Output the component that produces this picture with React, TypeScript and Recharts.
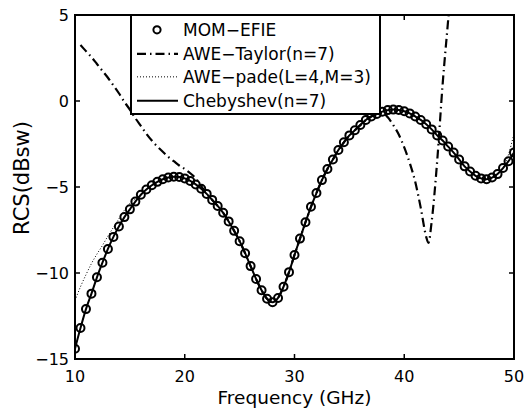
import { LineChart, Line, XAxis, YAxis, ReferenceArea, Legend } from "recharts";

// frequency samples (GHz) used by MOM / Chebyshev / Pade
const FREQ = [
  10, 10.5, 11, 11.5, 12, 12.5, 13, 13.5, 14, 14.5, 15, 15.5, 16, 16.5, 17, 17.5, 18, 18.5, 19, 19.5,
  20, 20.5, 21, 21.5, 22, 22.5, 23, 23.5, 24, 24.5, 25, 25.5, 26, 26.5, 27, 27.5, 28, 28.5, 29, 29.5,
  30, 30.5, 31, 31.5, 32, 32.5, 33, 33.5, 34, 34.5, 35, 35.5, 36, 36.5, 37, 37.5, 38, 38.5, 39, 39.5,
  40, 40.5, 41, 41.5, 42, 42.5, 43, 43.5, 44, 44.5, 45, 45.5, 46, 46.5, 47, 47.5, 48, 48.5, 49, 49.5, 50
];

const MOM_EFIE = [
  -14.4, -13.2, -12.1, -11.2, -10.25, -9.4, -8.6, -7.9, -7.3, -6.75, -6.3, -5.85, -5.45, -5.15, -4.9, -4.7, -4.55, -4.45, -4.4, -4.42,
  -4.5, -4.65, -4.85, -5.1, -5.4, -5.75, -6.1, -6.5, -7.0, -7.55, -8.15, -8.85, -9.6, -10.35, -11.0, -11.5, -11.7, -11.45, -10.8, -9.95,
  -8.95, -8.0, -7.05, -6.15, -5.35, -4.6, -3.95, -3.4, -2.85, -2.4, -2.0, -1.7, -1.4, -1.1, -0.9, -0.75, -0.62, -0.53, -0.5, -0.52,
  -0.6, -0.72, -0.9, -1.1, -1.35, -1.65, -2.0, -2.3, -2.65, -3.0, -3.4, -3.8, -4.1, -4.35, -4.5, -4.55, -4.45, -4.25, -3.9, -3.5, -3.0
];

const CHEBYSHEV = [
  -14.4, -13.2, -12.1, -11.2, -10.25, -9.4, -8.6, -7.9, -7.3, -6.75, -6.3, -5.85, -5.45, -5.15, -4.9, -4.7, -4.55, -4.45, -4.4, -4.42,
  -4.5, -4.65, -4.85, -5.1, -5.4, -5.75, -6.1, -6.5, -7.0, -7.55, -8.15, -8.85, -9.6, -10.35, -11.0, -11.5, -11.7, -11.45, -10.8, -9.95,
  -8.95, -8.0, -7.05, -6.15, -5.35, -4.6, -3.95, -3.4, -2.85, -2.4, -2.0, -1.7, -1.4, -1.1, -0.9, -0.75, -0.62, -0.53, -0.5, -0.52,
  -0.6, -0.72, -0.9, -1.1, -1.35, -1.65, -2.0, -2.3, -2.65, -3.0, -3.4, -3.8, -4.1, -4.35, -4.5, -4.55, -4.45, -4.25, -3.9, -3.5, -3.0
];

const PADE = [
  -11.6, -10.8, -10.1, -9.45, -8.9, -8.4, -7.85, -7.35, -6.85, -6.35, -5.95, -5.7, -5.45, -5.15, -4.9, -4.7, -4.55, -4.45, -4.4, -4.42,
  -4.5, -4.65, -4.85, -5.1, -5.4, -5.75, -6.1, -6.5, -7.0, -7.55, -8.15, -8.85, -9.6, -10.35, -11.0, -11.5, -11.7, -11.45, -10.8, -9.95,
  -8.95, -8.0, -7.05, -6.15, -5.35, -4.6, -3.95, -3.4, -2.85, -2.4, -2.0, -1.7, -1.4, -1.1, -0.9, -0.75, -0.62, -0.53, -0.5, -0.52,
  -0.6, -0.72, -0.9, -1.1, -1.35, -1.65, -2.0, -2.3, -2.65, -3.0, -3.4, -3.8, -4.1, -4.35, -4.5, -4.55, -4.45, -4.25, -3.9, -3.1, -1.9
];

const TAYLOR_FREQ = [
  10.5, 11, 11.5, 12, 12.5, 13, 13.5, 14, 14.5, 15, 15.5, 16, 16.5, 17, 17.5, 18, 18.5, 19, 19.5, 20,
  20.5, 21, 21.5, 22, 22.5, 23, 23.5, 24, 24.5, 25, 25.5, 26, 26.5, 27, 27.5, 28, 28.5, 29, 29.5, 30,
  30.5, 31, 31.5, 32, 32.5, 33, 33.5, 34, 34.5, 35, 35.5, 36, 36.5, 37, 37.5, 38, 38.5, 39, 39.5, 40,
  40.5, 41, 41.5, 42, 42.2, 42.5, 43, 43.5, 44, 44.5
];

const TAYLOR = [
  3.25, 2.9, 2.55, 2.15, 1.75, 1.35, 0.9, 0.45, -0.05, -0.5, -1.0, -1.45, -1.9, -2.3, -2.65, -2.95, -3.25, -3.5, -3.75, -3.95,
  -4.2, -4.5, -4.95, -5.4, -5.75, -6.1, -6.5, -7.0, -7.55, -8.15, -8.85, -9.6, -10.35, -11.0, -11.5, -11.7, -11.45, -10.8, -9.95, -8.95,
  -8.0, -7.05, -6.15, -5.35, -4.6, -3.95, -3.4, -2.85, -2.4, -2.0, -1.7, -1.4, -1.1, -0.9, -0.75, -0.68, -0.95, -1.4, -1.95, -2.7,
  -3.6, -4.7, -6.2, -7.9, -8.25, -7.0, -3.5, 1.0, 4.7, 8.5
];

const X_TICKS = [10, 20, 30, 40, 50];
const Y_TICKS = [-15, -10, -5, 0, 5];
const LEGEND_LABELS = ["MOM\u2212EFIE", "AWE\u2212Taylor(n=7)", "AWE\u2212pade(L=4,M=3)", "Chebyshev(n=7)"];

const zip = (xs: number[], ys: number[]) => xs.map((f, i) => ({ f, v: ys[i] }));
const momData = zip(FREQ, MOM_EFIE);
const chebData = zip(FREQ, CHEBYSHEV);
const padeData = zip(FREQ, PADE);
const taylorData = zip(TAYLOR_FREQ, TAYLOR);

// layout
const W = 528;
const H = 414;
const MARGIN = { top: 15, right: 14, bottom: 5, left: 0 };
const Y_AXIS_W = 75;
const X_AXIS_H = 50;
const PLOT_TOP = MARGIN.top;
const PLOT_BOTTOM = H - MARGIN.bottom - X_AXIS_H;
const PLOT_LEFT = MARGIN.left + Y_AXIS_W;
const PLOT_RIGHT = W - MARGIN.right;
const TICK_LEN = 5;
const FONT = '"DejaVu Sans", Arial, sans-serif';

const TAYLOR_DASH = "9 4 1.5 4";
const PADE_DASH = "1 2";

const fmt = (v: number) => (v < 0 ? `\u2212${-v}` : `${v}`);

function XTick(props: any) {
  const { x, payload } = props;
  const v = payload.value;
  const inner = v !== X_TICKS[0] && v !== X_TICKS[X_TICKS.length - 1];
  return (
    <g>
      {inner && <line x1={x} x2={x} y1={PLOT_BOTTOM} y2={PLOT_BOTTOM - TICK_LEN} stroke="#000" strokeWidth={1.5} />}
      {inner && <line x1={x} x2={x} y1={PLOT_TOP} y2={PLOT_TOP + TICK_LEN} stroke="#000" strokeWidth={1.5} />}
      <text x={x} y={PLOT_BOTTOM + 23} textAnchor="middle" fontSize={16} fontFamily={FONT} fill="#000">
        {fmt(v)}
      </text>
    </g>
  );
}

function YTick(props: any) {
  const { y, payload } = props;
  const v = payload.value;
  const inner = v !== Y_TICKS[0] && v !== Y_TICKS[Y_TICKS.length - 1];
  return (
    <g>
      {inner && <line x1={PLOT_LEFT} x2={PLOT_LEFT + TICK_LEN} y1={y} y2={y} stroke="#000" strokeWidth={1.5} />}
      {inner && <line x1={PLOT_RIGHT} x2={PLOT_RIGHT - TICK_LEN} y1={y} y2={y} stroke="#000" strokeWidth={1.5} />}
      <text x={PLOT_LEFT - 6} y={y + 6} textAnchor="end" fontSize={16} fontFamily={FONT} fill="#000">
        {fmt(v)}
      </text>
    </g>
  );
}

function LegendSample({ i }: { i: number }) {
  const y = 11.85;
  if (i === 0) return <circle cx={25} cy={y} r={3.6} fill="none" stroke="#000" strokeWidth={2} />;
  if (i === 1) return <line x1={5} x2={46} y1={y} y2={y} stroke="#000" strokeWidth={2.2} strokeDasharray={TAYLOR_DASH} />;
  if (i === 2) return <line x1={5} x2={46} y1={y} y2={y} stroke="#000" strokeWidth={1} strokeDasharray={PADE_DASH} />;
  return <line x1={5} x2={46} y1={y} y2={y} stroke="#000" strokeWidth={2} />;
}

function LegendBox() {
  return (
    <div
      style={{
        boxSizing: "border-box",
        width: 251,
        height: 101,
        border: "2px solid #000",
        background: "#fff",
        paddingTop: 2,
        fontFamily: FONT,
        fontSize: 17,
        color: "#000",
      }}
    >
      {LEGEND_LABELS.map((label, i) => (
        <div key={label} style={{ display: "flex", alignItems: "center", height: 23.7 }}>
          <svg width={50} height={23.7} style={{ flex: "none" }}>
            <LegendSample i={i} />
          </svg>
          <span style={{ marginLeft: 1, whiteSpace: "nowrap" }}>{label}</span>
        </div>
      ))}
    </div>
  );
}

export default function App() {
  return (
    <div style={{ position: "absolute", left: 0, top: 0, width: W, height: H, background: "#fff" }}>
      <LineChart width={W} height={H} margin={MARGIN}>
        <XAxis
          type="number"
          dataKey="f"
          domain={[10, 50]}
          ticks={X_TICKS}
          interval={0}
          allowDataOverflow
          height={X_AXIS_H}
          axisLine={false}
          tickLine={false}
          tick={(p: any) => <XTick {...p} />}
          label={{
            value: "Frequency (GHz)",
            content: () => (
              <text x={(PLOT_LEFT + PLOT_RIGHT) / 2} y={404} textAnchor="middle" fontSize={18.5} fontFamily={FONT} fill="#000">
                Frequency (GHz)
              </text>
            ),
          }}
        />
        <YAxis
          type="number"
          domain={[-15, 5]}
          ticks={Y_TICKS}
          interval={0}
          allowDataOverflow
          width={Y_AXIS_W}
          axisLine={false}
          tickLine={false}
          tick={(p: any) => <YTick {...p} />}
          label={{
            value: "RCS(dBsw)",
            content: () => (
              <text transform="translate(29,178) rotate(-90)" textAnchor="middle" fontSize={21} fontFamily={FONT} fill="#000">
                RCS(dBsw)
              </text>
            ),
          }}
        />
        <Line
          data={padeData}
          dataKey="v"
          type="monotone"
          stroke="#000"
          strokeWidth={1}
          strokeDasharray={PADE_DASH}
          dot={false}
          activeDot={false}
          isAnimationActive={false}
        />
        <Line
          data={taylorData}
          dataKey="v"
          type="monotone"
          stroke="#000"
          strokeWidth={2.2}
          strokeDasharray={TAYLOR_DASH}
          dot={false}
          activeDot={false}
          isAnimationActive={false}
        />
        <Line
          data={chebData}
          dataKey="v"
          type="monotone"
          stroke="#000"
          strokeWidth={2}
          dot={false}
          activeDot={false}
          isAnimationActive={false}
        />
        <Line
          data={momData}
          dataKey="v"
          stroke="none"
          dot={{ r: 4, stroke: "#000", strokeWidth: 2, fill: "none" }}
          activeDot={false}
          isAnimationActive={false}
        />
        <ReferenceArea x1={10} x2={50} y1={-15} y2={5} fill="none" stroke="#000" strokeWidth={2} />
        <Legend
          layout="vertical"
          align="center"
          verticalAlign="middle"
          wrapperStyle={{ left: 130, top: 14, width: 251, height: 101 }}
          content={() => <LegendBox />}
        />
      </LineChart>
    </div>
  );
}
